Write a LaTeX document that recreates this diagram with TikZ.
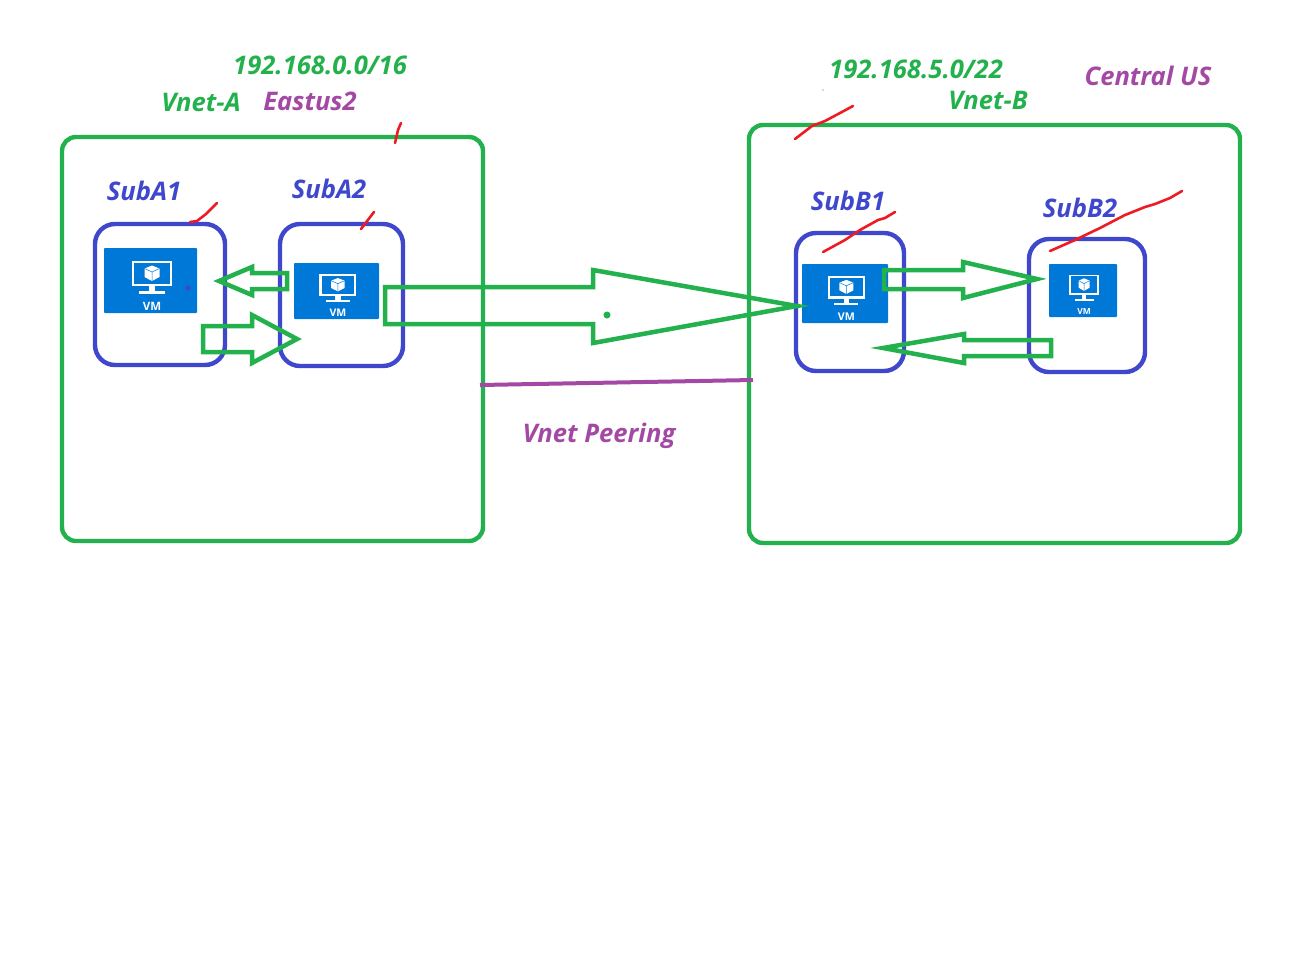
\documentclass[tikz,border=0pt]{standalone}
\usepackage{fontspec}
\setmainfont{Open Sans}
\definecolor{grn}{HTML}{22B14C}
\definecolor{blu}{HTML}{3F48CC}
\definecolor{pur}{HTML}{A349A4}
\definecolor{rd}{HTML}{ED1C24}
\definecolor{vmb}{HTML}{0078D7}
\tikzset{
 vnetbox/.style={draw=grn,line width=4.4pt,rounded corners=14pt},
 subbox/.style={draw=blu,line width=4.4pt,rounded corners=20pt},
 flow/.style={draw=grn,line width=4.5pt,miter limit=10,line join=miter},
 tick/.style={draw=rd,line width=2.6pt,line cap=round,line join=round},
 lab/.style={inner sep=0pt,font=\bfseries\itshape\fontsize{25.6}{28}\selectfont},
 vmlab/.style={inner sep=0pt,text=white},
}
% #1 left, #2 top, #3 width, #4 height, #5 name
\newcommand{\vmicon}[5]{%
 \begin{scope}[shift={(#1,#2)},x=#3pt/93,y=-#4pt/65]
  \pgfmathsetmacro{\vmfs}{#3/93*11.5}
  \pgfmathsetmacro{\vmlw}{#3/93*2.4}
  \fill[vmb,rounded corners=.8pt] (0,0) rectangle (93,65);
  \draw[white,line width=\vmlw pt] (29,14) rectangle (67,37);
  \fill[white] (45,38) rectangle (51,43);
  \fill[white] (35,43) rectangle (61,45.5);
  \fill[white] (48,17.5) -- (55.5,20.5) -- (55.5,29) -- (48,33) -- (40.5,29) -- (40.5,20.5) -- cycle;
  \draw[vmb,line width=.5pt] (40.5,20.5) -- (48,24) -- (55.5,20.5) (48,24) -- (48,33);
  \node[vmlab,font=\bfseries\fontsize{\vmfs}{14}\selectfont] (#5) at (48,58) {VM};
 \end{scope}}
\begin{document}
\begin{tikzpicture}[x=1pt,y=-1pt]
\useasboundingbox (0,0) rectangle (1300,975);
\fill[white] (0,0) rectangle (1300,975);
% vnets
\draw[vnetbox] (62,137) rectangle (483,541);
\draw[vnetbox] (749,125) rectangle (1240,543);
% subnets
\draw[subbox] (95,224) rectangle (225,365);
\draw[subbox] (280,224) rectangle (403,366);
\draw[subbox] (796,233) rectangle (904,371);
\draw[subbox] (1029,239) rectangle (1145,372);
% VMs
\vmicon{104}{248}{93}{65}{vmaa}
\vmicon{294}{263}{85}{56}{vmab}
\vmicon{802}{264}{86}{59}{vmba}
\vmicon{1049}{264}{68}{53}{vmbb}
\fill[blu] (188,288) circle (2.5);
% arrows
\draw[flow] (219,281) -- (252,267) -- (252,273) -- (287,273) -- (287,289) -- (252,289) -- (252,295) -- cycle;
\draw[flow] (203,326) -- (252,326) -- (252,315) -- (297,339) -- (252,363) -- (252,352) -- (203,352) -- cycle;
\draw[flow] (385,287) -- (593,287) -- (593,270) -- (797,306) -- (593,343) -- (593,324) -- (385,324) -- cycle;
\fill[grn] (607,315) circle (3.5);
\draw[flow] (884,270) -- (963,270) -- (963,262) -- (1037,279) -- (963,298) -- (963,289) -- (884,289) -- cycle;
\draw[flow] (1051,340) -- (964,340) -- (964,334) -- (883,348) -- (964,363) -- (964,356) -- (1051,356) -- cycle;
% peering
\draw[pur,line width=4pt] (480,385) -- (753,380);
% red ticks
\draw[tick] (395,143) -- (398,130) -- (401,123);
\draw[tick] (190,222) -- (197,221) -- (206,214) -- (217,203);
\draw[tick] (361,229) -- (374,212);
\draw[tick] (795,139) -- (812,126) -- (825,121) -- (840,113) -- (853,106);
\draw[tick] (823,252) -- (845,240) -- (860,230) -- (878,220) -- (885,218) -- (895,212);
\draw[tick] (1050,251) -- (1075,240) -- (1100,228) -- (1125,215) -- (1145,207) -- (1155,204) -- (1170,198) -- (1182,191);
\fill[rd] (823,90) circle (.7);
% labels
\node[lab,text=grn] (ipa) at (320,65) {192.168.0.0/16};
\node[lab,text=grn] (vna) at (201,102) {Vnet-A};
\node[lab,text=pur] (ea) at (310,101) {Eastus2};
\node[lab,text=grn] (ipb) at (916,69) {192.168.5.0/22};
\node[lab,text=grn] (vnb) at (988,100) {Vnet-B};
\node[lab,text=pur] (cu) at (1148,76) {Central US};
\node[lab,text=blu] (sa1) at (144,191) {SubA1};
\node[lab,text=blu] (sa2) at (329,189) {SubA2};
\node[lab,text=blu] (sb1) at (848,201) {SubB1};
\node[lab,text=blu] (sb2) at (1080,208) {SubB2};
\node[lab,text=pur] (vp) at (599,436) {Vnet Peering};
\end{tikzpicture}
\end{document}
